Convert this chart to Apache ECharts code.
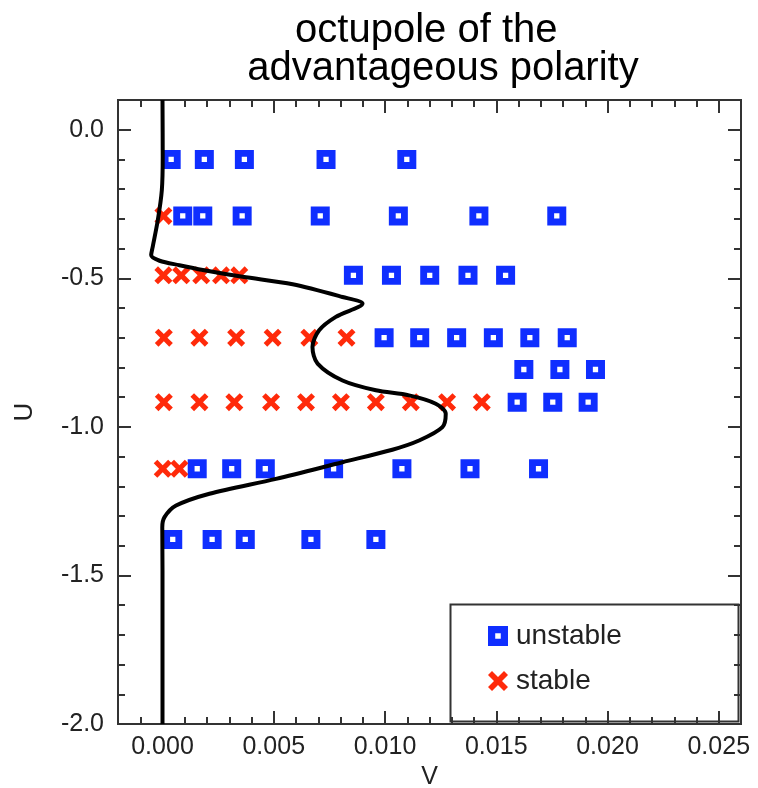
<!DOCTYPE html>
<html>
<head>
<meta charset="utf-8">
<script src="https://cdn.jsdelivr.net/npm/echarts@6/dist/echarts.min.js"></script>
<style>
  html, body { margin: 0; padding: 0; background: #fff; }
  #main { width: 758px; height: 788px; }
</style>
</head>
<body>
<div id="main"></div>
<script>
// tick labels / tick positions
var xMajor = [0, 0.005, 0.010, 0.015, 0.020, 0.025];
var xMinor = [-0.001, 0.001, 0.002, 0.003, 0.004, 0.006, 0.007, 0.008, 0.009, 0.011, 0.012, 0.013, 0.014,
              0.016, 0.017, 0.018, 0.019, 0.021, 0.022, 0.023, 0.024];
var yMajor = [-2.0, -1.5, -1.0, -0.5, 0.0];
var yMinor = [-1.9, -1.8, -1.7, -1.6, -1.4, -1.3, -1.2, -1.1, -0.9, -0.8, -0.7, -0.6,
              -0.4, -0.3, -0.2, -0.1];

// unstable points, one row per U value
var unstableU = [-0.10, -0.29, -0.49, -0.70, -0.807, -0.917, -1.141, -1.379];
var unstableV = [
    [0.00039, 0.00188, 0.00368, 0.00735, 0.01098],
    [0.00091, 0.00181, 0.00358, 0.00709, 0.0106, 0.01422, 0.01772],
    [0.00858, 0.01029, 0.01201, 0.01373, 0.01542],
    [0.00996, 0.01156, 0.01322, 0.01487, 0.01651, 0.01819],
    [0.01624, 0.01786, 0.01946],
    [0.01594, 0.01754, 0.01913],
    [0.00156, 0.00311, 0.00462, 0.00769, 0.01076, 0.01382, 0.01690],
    [0.00046, 0.00223, 0.00372, 0.00667, 0.00959]
];

// stable points
var stableU = [-0.29, -0.49, -0.70, -0.917, -1.141];
var stableV = [
    [0.00004],
    [0.00004, 0.00084, 0.00174, 0.00263, 0.00345],
    [0.00006, 0.00166, 0.00331, 0.00495, 0.0066, 0.00827],
    [0.00006, 0.00166, 0.00323, 0.00488, 0.00645, 0.00802, 0.00959, 0.01116, 0.01279, 0.01435],
    [0.00001, 0.00076]
];

// boundary curve (V, U)
var curveV = [0.0, 0.00001, -0.00003, -0.00021, -0.00044, -0.00051, -0.00013, 0.00076, 0.00181, 0.0036,
              0.00585, 0.00809, 0.00899, 0.00779, 0.00704, 0.00674, 0.00697, 0.00809, 0.00959, 0.01108,
              0.01228, 0.01273, 0.01258, 0.01153, 0.01033, 0.00809, 0.0051, 0.00211, 0.00061, 0.00009,
              -0.00001, 0.0, 0.0];
var curveU = [0.1, -0.091, -0.203, -0.304, -0.394, -0.422, -0.441, -0.456, -0.472, -0.495,
              -0.520, -0.563, -0.585, -0.630, -0.675, -0.731, -0.787, -0.844, -0.877, -0.894,
              -0.922, -0.956, -1.001, -1.046, -1.077, -1.119, -1.175, -1.225, -1.265, -1.304,
              -1.338, -1.484, -2.0];

function rowsToPoints(us, vs) {
    var out = [];
    for (var i = 0; i < us.length; i++) {
        for (var j = 0; j < vs[i].length; j++) out.push([vs[i][j], us[i]]);
    }
    return out;
}
var curveData = curveV.map(function (v, i) { return [v, curveU[i]]; });

var SQUARE = 'path://M0,0H18V18H0Z M6.5,6.5V11.5H11.5V6.5Z';
var CROSS = 'path://M0,2L2,0L5,3L8,0L10,2L7,5L10,8L8,10L5,7L2,10L0,8L3,5Z';
var FONT = 'Liberation Sans';
var axisCol = '#333';

function xAx(pos, ticks, len, labels) {
    return {
        type: 'value', position: pos, min: -0.002, max: 0.026,
        name: labels ? 'V' : '', nameLocation: 'middle', nameGap: 40,
        nameTextStyle: { fontFamily: FONT, fontSize: 25, color: '#222' },
        axisLine: { show: true, onZero: false, lineStyle: { color: axisCol, width: 2 } },
        axisTick: { show: true, inside: true, length: len, customValues: ticks, lineStyle: { color: axisCol, width: 2 } },
        axisLabel: { show: !!labels, customValues: ticks, margin: 11, fontFamily: FONT, fontSize: 25, color: '#222',
                     formatter: function (v) { return v.toFixed(3); } },
        splitLine: { show: false }
    };
}
function yAx(pos, ticks, len, labels) {
    return {
        type: 'value', position: pos, min: -2.0, max: 0.1,
        name: labels ? 'U' : '', nameLocation: 'middle', nameGap: 80, nameRotate: 90,
        nameTextStyle: { fontFamily: FONT, fontSize: 26, color: '#222' },
        axisLine: { show: true, onZero: false, lineStyle: { color: axisCol, width: 2 } },
        axisTick: { show: true, inside: true, length: len, customValues: ticks, lineStyle: { color: axisCol, width: 2 } },
        axisLabel: { show: !!labels, customValues: ticks, margin: 14, fontFamily: FONT, fontSize: 25, color: '#222',
                     formatter: function (v) { return v.toFixed(1); } },
        splitLine: { show: false }
    };
}

var chart = echarts.init(document.getElementById('main'), null, { renderer: 'canvas' });
var option = {
    animation: false,
    backgroundColor: '#fff',
    title: {
        text: 'octupole of the   \nadvantageous polarity',
        left: 438, top: 7, textAlign: 'center',
        textStyle: { fontFamily: FONT, fontSize: 40, fontWeight: 'normal', color: '#000', lineHeight: 38 }
    },
    grid: { left: 118, top: 100, right: 17, bottom: 64, outerBoundsMode: 'none', containLabel: false },
    xAxis: [
        xAx('bottom', xMajor, 13, true),
        xAx('bottom', xMinor, 7, false),
        xAx('top', xMajor, 13, false),
        xAx('top', xMinor, 7, false)
    ],
    yAxis: [
        yAx('left', yMajor, 13, true),
        yAx('left', yMinor, 7, false),
        yAx('right', yMajor, 13, false),
        yAx('right', yMinor, 7, false)
    ],
    legend: {
        orient: 'vertical', left: 483, top: 617,
        itemWidth: 26, itemHeight: 20, itemGap: 17, symbolKeepAspect: true,
        textStyle: { fontFamily: FONT, fontSize: 28, color: '#222' },
        data: ['unstable', 'stable']
    },
    graphic: [{
        type: 'rect', right: 17, bottom: 64, z: 5,
        shape: { width: 288, height: 117 },
        style: { fill: null, stroke: axisCol, lineWidth: 2 }
    }],
    series: [
        {
            name: 'unstable', type: 'scatter', symbol: SQUARE, symbolSize: 19,
            itemStyle: { color: '#0f2eff', opacity: 1 },
            data: rowsToPoints(unstableU, unstableV), z: 3
        },
        {
            name: 'stable', type: 'scatter', symbol: CROSS, symbolSize: 18,
            itemStyle: { color: '#ff2a0a', opacity: 1 },
            data: rowsToPoints(stableU, stableV), z: 3
        },
        {
            name: 'curve', type: 'line', data: curveData, showSymbol: false, symbol: 'none',
            smooth: 0.3, lineStyle: { color: '#000', width: 4 }, z: 4
        }
    ]
};
chart.setOption(option);
</script>
</body>
</html>
